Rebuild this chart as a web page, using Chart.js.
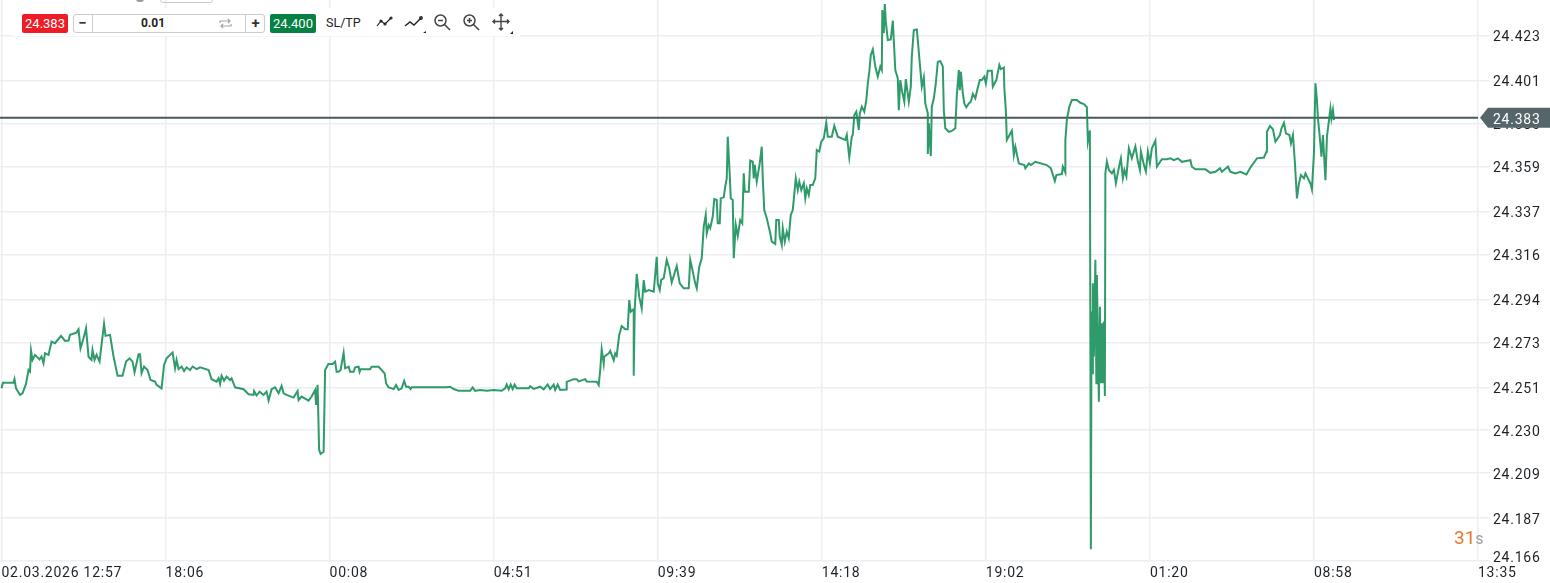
<!DOCTYPE html>
<html>
<head>
<meta charset="utf-8">
<title>XAG chart</title>
<script src="https://cdn.jsdelivr.net/npm/chart.js@4/dist/chart.umd.min.js"></script>
<style>
    html, body { margin: 0; padding: 0; background: #fff; overflow: hidden; }
    #wrap { position: relative; width: 1550px; height: 583px; font-family: Roboto, sans-serif; }
    #wrap canvas { position: absolute; left: 0; top: 0; }
    .bar { position: absolute; left: 13px; top: 8px; width: 507px; height: 28px; background: #fff; }
    .abs { position: absolute; box-sizing: border-box; }
    .price { top: 14px; height: 19px; width: 46px; border-radius: 2px; color: #fff; font-size: 13px; line-height: 19px; text-align: center; }
    .icon { top: 13px; }
    .countdown { position: absolute; left: 1454px; top: 529px; font-size: 19px; line-height: 18px; color: #e8792e; }
    .countdown span { color: #9aa0a6; font-size: 16px; }
</style>
</head>
<body>
<div id="wrap">
    <canvas id="chart" width="1550" height="583"></canvas>

    <div class="abs" style="left:136px;top:-4px;width:8px;height:6px;border-radius:4px;background:#9a9a9a;"></div>
    <div class="abs" style="left:160px;top:-6px;width:53px;height:9px;border:1px solid #ccc;border-radius:3px;"></div>

    <div class="bar"></div>
    <div class="abs price" style="left:22px;background:#ee1c25;">24.383</div>
    <div class="abs" style="left:73px;top:14px;width:192px;height:19px;border:1px solid #ccc;border-radius:3px;background:#fff;"></div>
    <div class="abs" style="left:92px;top:14px;width:1px;height:19px;background:#ccc;"></div>
    <div class="abs" style="left:245px;top:14px;width:1px;height:19px;background:#ccc;"></div>
    <div class="abs" style="left:73px;top:14px;width:19px;text-align:center;font-size:15px;font-weight:700;line-height:18px;color:#333;">−</div>
    <div class="abs" style="left:246px;top:14px;width:19px;text-align:center;font-size:15px;font-weight:700;line-height:18px;color:#333;">+</div>
    <div class="abs" style="left:130px;top:14px;width:46px;text-align:center;font-size:12px;font-weight:700;line-height:19px;color:#222;">0.01</div>
    <svg class="abs" style="left:219px;top:17px;" width="13" height="13" viewBox="0 0 13 13" fill="none" stroke="#a6a6a6" stroke-width="1.2">
        <path d="M1 6V4h10M9 2l2 2-2 2M12 7v2H2M4 7L2 9l2 2"/>
    </svg>
    <div class="abs price" style="left:270px;background:#068043;">24.400</div>
    <div class="abs" style="left:326px;top:14px;font-size:12.5px;line-height:17px;color:#222;">SL/TP</div>

    <svg class="abs icon" style="left:376px;" width="18" height="18" viewBox="0 0 18 18" fill="none" stroke="#222" stroke-width="1.2">
        <path d="M1 13l4-5 4 3 6-6"/><circle cx="5" cy="8" r="1"/><circle cx="9" cy="11" r="1"/><circle cx="15" cy="5" r="1"/>
    </svg>
    <svg class="abs icon" style="left:404px;" width="22" height="20" viewBox="0 0 22 20" fill="none" stroke="#222" stroke-width="1.4">
        <path d="M1 13l5-4 4 3 7-7"/><circle cx="17" cy="5" r="1.2"/><path d="M22 18v2h-3z" fill="#222" stroke="none"/>
    </svg>
    <svg class="abs icon" style="left:433px;" width="18" height="18" viewBox="0 0 18 18" fill="none" stroke="#444" stroke-width="1.5">
        <circle cx="7.5" cy="7.5" r="5.5"/><path d="M11.5 11.5L17 17M5 7.5h5"/>
    </svg>
    <svg class="abs icon" style="left:462px;" width="18" height="18" viewBox="0 0 18 18" fill="none" stroke="#444" stroke-width="1.5">
        <circle cx="7.5" cy="7.5" r="5.5"/><path d="M11.5 11.5L17 17M5 7.5h5M7.5 5v5"/>
    </svg>
    <svg class="abs icon" style="left:492px;" width="21" height="21" viewBox="0 0 21 21" fill="none" stroke="#444" stroke-width="1.4">
        <path d="M1 8.5h16M9 1v16M3 6.5l-2 2 2 2M15 6.5l2 2-2 2M7 3l2-2 2 2M7 15l2 2 2-2"/><path d="M21 18v3h-3z" fill="#222" stroke="none"/>
    </svg>

    <div class="countdown">31<span>s</span></div>
</div>

<script>
const timeLabels = ['02.03.2026 12:57', '18:06', '00:08', '04:51', '09:39', '14:18', '19:02', '01:20', '08:58', '13:35'];
const priceTicks = [24.423, 24.401, 24.380, 24.359, 24.337, 24.316, 24.294, 24.273, 24.251, 24.230, 24.209, 24.187, 24.166];
const lastPrice = 24.383;
const barsPerLabel = 164;

const barIndex = [
    0, 1.5, 12, 13, 14.5, 18.5, 21, 24.5, 27, 28.5, 29.5, 31, 33.5, 38, 40, 42, 43.5, 47, 50, 53.5,
    59.5, 63.5, 67, 68.5, 75, 77, 79, 82, 84.5, 87, 90, 91, 93, 95, 98, 100, 102.5, 104, 108.5, 112,
    116, 121, 124.5, 128, 131, 133, 137, 138.5, 140, 142.5, 146, 149, 153.5, 155, 160, 162.5, 165, 171, 173.5, 175,
    177, 180, 182.5, 185, 188.5, 191, 195, 198.5, 207, 210, 215, 217, 218.5, 220, 222.5, 225, 228.5, 230, 233.5, 242,
    247, 252, 252.5, 255, 258, 262, 265, 267, 270, 273.5, 277, 280, 282, 285, 292, 296, 297, 300, 307, 310,
    313.5, 314.5, 316, 317.5, 319, 322, 323.5, 326.8, 331, 333.5, 335, 337, 339, 342, 343.5, 347, 348.5, 352, 353.5, 357,
    358, 359, 368.5, 370, 377, 383, 384.5, 387, 390, 392, 394.5, 397, 400, 402.5, 404.5, 407, 409, 410, 445, 448.5,
    452, 457, 468.5, 471, 473.5, 478.5, 485, 492, 500, 503.5, 505, 507, 509, 511, 513, 515, 527, 528.5, 532, 538.5,
    542, 546, 548.5, 552, 553.5, 556, 558.5, 564.5, 565, 572, 575, 577, 583.5, 585, 595, 597, 598.5, 600, 602, 602.5,
    607, 608.5, 612, 613.5, 615, 617.5, 620, 623.5, 626, 627.5, 629, 632, 632, 633, 635, 637.5, 640, 642, 643.5, 647,
    652, 655, 656, 658, 659.5, 662, 665, 667.5, 670, 675, 678, 682, 687, 688.5, 690, 693.5, 695, 697.5, 700, 702,
    704, 705, 707, 708.5, 711, 712.5, 715, 716, 718, 719, 722, 723.5, 725, 726, 728, 729, 731, 732, 734, 736,
    738.5, 740.5, 742, 743, 747, 748.5, 751, 752, 753, 755, 758, 760, 761, 762.5, 765, 768.5, 770, 773.5, 774.5, 777,
    778, 780, 781, 783, 785, 787, 789, 791, 794, 796, 797.5, 799.5, 802, 803.5, 805, 807, 808.5, 811, 813.5, 815,
    817.5, 819.5, 822, 824.5, 826, 830, 832.5, 836, 843.5, 845, 847.5, 850, 851, 852.5, 854.5, 857, 858, 860, 862.5, 864.5,
    866, 867.5, 869, 871, 873.5, 876, 878.5, 880, 880.5, 882, 883, 884, 886, 889, 891, 893.5, 896, 897, 898.5, 900,
    902.5, 904, 907, 909, 910, 912, 915, 918, 920, 922, 923.5, 926, 926, 927, 929, 930, 932, 934, 936, 938.5,
    941, 942, 943.5, 947, 950, 953.5, 955, 957, 958, 959, 961, 962.5, 964.5, 967, 969, 971, 973.5, 976, 978, 980,
    982.5, 984, 986, 990, 991, 994.5, 997.5, 999, 1002, 1002.5, 1004, 1005, 1010, 1012, 1013.5, 1017, 1022.5, 1023.5, 1027, 1029,
    1033.5, 1045, 1049, 1053, 1054.5, 1060, 1061, 1063.5, 1063.5, 1065, 1067.5, 1070, 1075, 1078.5, 1082, 1085, 1086, 1088, 1089, 1089.5,
    1090, 1090.5, 1091, 1092, 1093.5, 1094.5, 1095, 1096, 1097, 1098, 1099, 1100, 1101, 1102, 1103, 1103.5, 1105, 1107, 1110, 1112,
    1114, 1117.5, 1119, 1121, 1122.5, 1124.5, 1127, 1130, 1133.5, 1136, 1138, 1139, 1142, 1144, 1146, 1148, 1150, 1153.5, 1155, 1160,
    1165, 1168.5, 1172, 1176, 1180, 1188.5, 1190, 1193.5, 1203.5, 1208.5, 1213.5, 1218, 1220, 1226, 1228.5, 1233.5, 1238.5, 1244.5, 1248.5, 1255,
    1262, 1264.5, 1265, 1268, 1271, 1273.5, 1278, 1279.5, 1282, 1284, 1287.5, 1289, 1291, 1293, 1295, 1297, 1299, 1302, 1303.5, 1306,
    1308.5, 1310, 1312, 1313.5, 1315, 1316, 1317.5, 1319.5, 1321, 1323.5, 1325, 1328.5, 1329.5, 1331, 1332
];

const closePrice = [
    24.2505, 24.2533, 24.2533, 24.2550, 24.2505, 24.2473, 24.2481, 24.2527, 24.2595, 24.2587, 24.2690, 24.2644, 24.2669, 24.2647, 24.2661, 24.2628, 24.2677, 24.2669, 24.2734, 24.2726,
    24.2762, 24.2737, 24.2739, 24.2767, 24.2778, 24.2794, 24.2701, 24.2750, 24.2799, 24.2660, 24.2644, 24.2693, 24.2644, 24.2669, 24.2636, 24.2718, 24.2820, 24.2762, 24.2767, 24.2661,
    24.2567, 24.2567, 24.2636, 24.2652, 24.2636, 24.2584, 24.2672, 24.2672, 24.2579, 24.2612, 24.2595, 24.2546, 24.2538, 24.2522, 24.2505, 24.2620, 24.2652, 24.2680, 24.2603, 24.2644,
    24.2599, 24.2612, 24.2590, 24.2608, 24.2595, 24.2612, 24.2599, 24.2608, 24.2595, 24.2550, 24.2538, 24.2554, 24.2527, 24.2567, 24.2543, 24.2563, 24.2546, 24.2554, 24.2510, 24.2501,
    24.2476, 24.2473, 24.2492, 24.2470, 24.2489, 24.2473, 24.2489, 24.2445, 24.2501, 24.2510, 24.2481, 24.2517, 24.2481, 24.2473, 24.2460, 24.2492, 24.2448, 24.2465, 24.2445, 24.2465,
    24.2497, 24.2424, 24.2522, 24.2204, 24.2184, 24.2195, 24.2595, 24.2624, 24.2624, 24.2635, 24.2586, 24.2586, 24.2595, 24.2679, 24.2603, 24.2611, 24.2586, 24.2586, 24.2608, 24.2611,
    24.2586, 24.2599, 24.2599, 24.2611, 24.2611, 24.2578, 24.2529, 24.2510, 24.2505, 24.2502, 24.2521, 24.2497, 24.2505, 24.2542, 24.2513, 24.2513, 24.2502, 24.2510, 24.2510, 24.2513,
    24.2502, 24.2493, 24.2493, 24.2510, 24.2493, 24.2497, 24.2493, 24.2497, 24.2493, 24.2505, 24.2524, 24.2500, 24.2524, 24.2502, 24.2524, 24.2505, 24.2505, 24.2516, 24.2502, 24.2513,
    24.2500, 24.2524, 24.2502, 24.2523, 24.2497, 24.2523, 24.2497, 24.2500, 24.2537, 24.2550, 24.2550, 24.2539, 24.2550, 24.2539, 24.2537, 24.2521, 24.2595, 24.2696, 24.2627, 24.2660,
    24.2676, 24.2689, 24.2643, 24.2676, 24.2665, 24.2766, 24.2810, 24.2794, 24.2794, 24.2937, 24.2880, 24.2893, 24.2567, 24.2893, 24.3065, 24.2954, 24.2896, 24.3035, 24.2978, 24.2986,
    24.2978, 24.3149, 24.3019, 24.2987, 24.3036, 24.3044, 24.3134, 24.3093, 24.3023, 24.3104, 24.3019, 24.2995, 24.2995, 24.3134, 24.3101, 24.3019, 24.2995, 24.3101, 24.3142, 24.3297,
    24.3354, 24.3264, 24.3305, 24.3289, 24.3346, 24.3431, 24.3427, 24.3313, 24.3313, 24.3435, 24.3440, 24.3493, 24.3533, 24.3737, 24.3550, 24.3435, 24.3427, 24.3142, 24.3305, 24.3251,
    24.3329, 24.3313, 24.3558, 24.3468, 24.3468, 24.3620, 24.3615, 24.3533, 24.3599, 24.3517, 24.3607, 24.3688, 24.3533, 24.3378, 24.3338, 24.3264, 24.3223, 24.3212, 24.3329, 24.3329,
    24.3248, 24.3207, 24.3289, 24.3223, 24.3272, 24.3240, 24.3354, 24.3378, 24.3533, 24.3476, 24.3517, 24.3476, 24.3509, 24.3435, 24.3484, 24.3452, 24.3501, 24.3501, 24.3533, 24.3672,
    24.3664, 24.3713, 24.3729, 24.3806, 24.3737, 24.3737, 24.3790, 24.3737, 24.3721, 24.3746, 24.3636, 24.3737, 24.3745, 24.3843, 24.3859, 24.3770, 24.3851, 24.3884, 24.3859, 24.3916,
    24.3998, 24.4055, 24.4137, 24.4164, 24.4080, 24.4031, 24.4080, 24.4063, 24.4357, 24.4243, 24.4386, 24.4300, 24.4210, 24.4213, 24.4305, 24.4063, 24.4022, 24.3867, 24.4014, 24.3965,
    24.3908, 24.4019, 24.3908, 24.3982, 24.4129, 24.4259, 24.4262, 24.4096, 24.3982, 24.4027, 24.3900, 24.3851, 24.3652, 24.3802, 24.3642, 24.3884, 24.3925, 24.3998, 24.4104, 24.4107,
    24.4080, 24.3867, 24.3778, 24.3761, 24.3765, 24.3778, 24.3941, 24.4063, 24.3965, 24.4055, 24.3949, 24.3900, 24.3881, 24.3900, 24.3908, 24.3946, 24.3925, 24.3978, 24.4014, 24.4014,
    24.4031, 24.3998, 24.4060, 24.4060, 24.3982, 24.4014, 24.4088, 24.4068, 24.4075, 24.3974, 24.3867, 24.3721, 24.3766, 24.3647, 24.3688, 24.3606, 24.3598, 24.3582, 24.3606, 24.3598,
    24.3614, 24.3598, 24.3582, 24.3520, 24.3549, 24.3554, 24.3590, 24.3562, 24.3721, 24.3819, 24.3884, 24.3916, 24.3916, 24.3903, 24.3897, 24.3881, 24.3713, 24.3767, 24.1717, 24.2579,
    24.2881, 24.2579, 24.3019, 24.2660, 24.3134, 24.2530, 24.3060, 24.2726, 24.2440, 24.2905, 24.2530, 24.2824, 24.2530, 24.2832, 24.2468, 24.3558, 24.3615, 24.3574, 24.3558, 24.3574,
    24.3509, 24.3599, 24.3631, 24.3534, 24.3574, 24.3542, 24.3680, 24.3631, 24.3689, 24.3615, 24.3574, 24.3664, 24.3599, 24.3566, 24.3664, 24.3607, 24.3680, 24.3718, 24.3591, 24.3627,
    24.3627, 24.3631, 24.3622, 24.3631, 24.3614, 24.3622, 24.3590, 24.3577, 24.3577, 24.3560, 24.3565, 24.3582, 24.3565, 24.3590, 24.3565, 24.3557, 24.3565, 24.3552, 24.3586, 24.3631,
    24.3635, 24.3663, 24.3761, 24.3789, 24.3773, 24.3712, 24.3745, 24.3777, 24.3805, 24.3753, 24.3745, 24.3704, 24.3745, 24.3606, 24.3435, 24.3508, 24.3549, 24.3533, 24.3557, 24.3533,
    24.3508, 24.3479, 24.3655, 24.3998, 24.3916, 24.3826, 24.3753, 24.3639, 24.3745, 24.3524, 24.3737, 24.3875, 24.3826, 24.3867, 24.3818
];

const gridColor = '#eceef3';
const textColor = '#1d2226';
const tagColor = '#56656a';
const tickFont = { family: 'Roboto', size: 14 };

// price tag on the right and the bottom tick, which sits a bit above its grid line
const priceTagPlugin = {
    id: 'priceTag',
    beforeDraw(chart) {
        chart.ctx.letterSpacing = '0.75px';
    },
    afterDraw(chart) {
        const ctx = chart.ctx;
        const y = chart.scales.y.getPixelForValue(lastPrice);
        ctx.save();
        ctx.fillStyle = tagColor;
        ctx.beginPath();
        ctx.moveTo(1480, y);
        ctx.lineTo(1488, y - 10);
        ctx.lineTo(1550, y - 10);
        ctx.lineTo(1550, y + 10);
        ctx.lineTo(1488, y + 10);
        ctx.closePath();
        ctx.fill();
        ctx.font = '14px Roboto';
        ctx.fillStyle = '#fff';
        ctx.textBaseline = 'middle';
        ctx.textAlign = 'left';
        ctx.fillText(lastPrice.toFixed(3), 1493, y + 3);

        ctx.fillStyle = textColor;
        ctx.fillText(priceTicks[priceTicks.length - 1].toFixed(3), 1493, 558);
        ctx.restore();
    }
};

new Chart(document.getElementById('chart'), {
    type: 'line',
    data: {
        datasets: [
            {
                data: barIndex.map((b, i) => ({ x: b, y: closePrice[i] })),
                borderColor: 'rgba(24, 144, 90, 0.9)',
                borderWidth: 2,
                pointRadius: 0,
                tension: 0
            },
            {
                data: [{ x: -1.5, y: lastPrice }, { x: barsPerLabel * 9, y: lastPrice }],
                borderColor: '#4a595d',
                borderWidth: 2,
                pointRadius: 0
            }
        ]
    },
    options: {
        responsive: false,
        animation: false,
        plugins: { legend: { display: false }, tooltip: { enabled: false } },
        scales: {
            x: {
                type: 'linear',
                min: -1.5,
                max: barsPerLabel * 9,
                afterBuildTicks: s => { s.ticks = timeLabels.map((t, i) => ({ value: i * barsPerLabel })); },
                afterFit: s => { s.height = 22; s.paddingLeft = 0; s.paddingRight = 0; },
                border: { display: false },
                grid: { color: gridColor, lineWidth: 1.5, drawTicks: false },
                ticks: {
                    autoSkip: false,
                    maxRotation: 0,
                    align: 'start',
                    padding: 4,
                    color: textColor,
                    font: tickFont,
                    callback: (v) => timeLabels[Math.round(v / barsPerLabel)]
                }
            },
            y: {
                position: 'right',
                min: 24.166,
                max: 24.4406,
                afterBuildTicks: s => { s.ticks = priceTicks.map(v => ({ value: v })); },
                afterFit: s => { s.width = 72; s.paddingTop = 0; s.paddingBottom = 0; },
                border: { display: false },
                grid: { color: gridColor, lineWidth: 1.5, tickLength: 12 },
                ticks: {
                    autoSkip: false,
                    padding: 3,
                    labelOffset: 2,
                    font: tickFont,
                    color: c => c.index === priceTicks.length - 1 ? 'rgba(0,0,0,0)' : textColor,
                    callback: v => v.toFixed(3)
                }
            }
        }
    },
    plugins: [priceTagPlugin]
});
</script>
</body>
</html>
